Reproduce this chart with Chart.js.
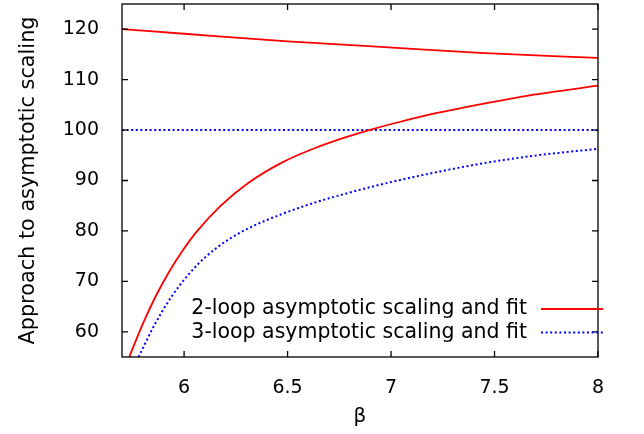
<!DOCTYPE html>
<html>
<head>
<meta charset="utf-8">
<script src="https://cdn.jsdelivr.net/npm/chart.js@4"></script>
<style>
  html, body { margin: 0; padding: 0; background: #fff; }
  #wrap { width: 644px; height: 434px; }
</style>
</head>
<body>
<div id="wrap"><canvas id="myChart" width="644" height="434"></canvas></div>
<script>
// data
const xTicks = [6, 6.5, 7, 7.5, 8];
const yTicks = [60, 70, 80, 90, 100, 110, 120];

// 2-loop: upper line and fit curve (red)
const beta2Top = [5.7, 6.0, 6.5, 6.95, 7.43, 8.0];
const val2Top  = [120.0, 119.1, 117.6, 116.5, 115.3, 114.3];
const beta2Fit = [5.735, 5.80, 5.86, 5.925, 5.99, 6.06, 6.18, 6.31, 6.47, 6.63, 6.79, 6.92, 7.05, 7.19, 7.43, 7.67, 8.0];
const val2Fit  = [55.0, 61.5, 66.8, 71.7, 75.9, 79.8, 85.1, 89.5, 93.5, 96.4, 98.7, 100.3, 101.7, 103.1, 105.1, 106.9, 108.8];

// 3-loop: flat line and fit curve (blue, dotted)
const beta3Top = [5.7, 8.0];
const val3Top  = [100, 100];
const beta3Fit = [5.78, 5.86, 5.94, 6.02, 6.10, 6.20, 6.31, 6.47, 6.63, 6.79, 6.95, 7.19, 7.43, 7.67, 8.0];
const val3Fit  = [55.0, 61.6, 67.0, 71.3, 74.7, 77.9, 80.5, 83.3, 85.6, 87.5, 89.2, 91.4, 93.3, 94.8, 96.3];

const labels = ['2-loop asymptotic scaling and fit', '3-loop asymptotic scaling and fit'];

function pts(xs, ys) {
  return xs.map((x, i) => ({x: x, y: ys[i]}));
}

const RED = '#ff0000';
const BLUE = '#0000ff';
const DOTS = [2, 2.6];

function serie(xs, ys, color, dash, label) {
  return {
    label: label,
    data: pts(xs, ys),
    showLine: true,
    borderColor: color,
    borderWidth: dash ? 2 : 1.8,
    borderDash: dash || [],
    pointRadius: 0,
    cubicInterpolationMode: 'monotone',
    fill: false
  };
}

Chart.defaults.font.family = "'DejaVu Sans', sans-serif";
Chart.defaults.color = '#000';

// gnuplot style frame with inward ticks + legend
const framePlugin = {
  id: 'frame',
  afterDraw(chart) {
    const ctx = chart.ctx;
    const a = chart.chartArea;
    const xs = chart.scales.x, ys = chart.scales.y;
    ctx.save();
    ctx.strokeStyle = '#000';
    ctx.lineWidth = 1.3;
    ctx.strokeRect(a.left, a.top, a.right - a.left, a.bottom - a.top);
    ctx.beginPath();
    for (const v of xTicks) {
      const px = xs.getPixelForValue(v);
      ctx.moveTo(px, a.bottom); ctx.lineTo(px, a.bottom - 6);
      ctx.moveTo(px, a.top); ctx.lineTo(px, a.top + 6);
    }
    for (const v of yTicks) {
      const py = ys.getPixelForValue(v);
      ctx.moveTo(a.left, py); ctx.lineTo(a.left + 6, py);
      ctx.moveTo(a.right, py); ctx.lineTo(a.right - 6, py);
    }
    ctx.stroke();

    // key
    ctx.font = "20.5px 'DejaVu Sans'";
    ctx.textAlign = 'right';
    ctx.textBaseline = 'middle';
    const rows = [chart.data.datasets[0], chart.data.datasets[2]];
    rows.forEach((ds, i) => {
      const y = 309 + i * 23.5;
      ctx.fillStyle = '#000';
      ctx.fillText(ds.label, 527, y);
      ctx.beginPath();
      ctx.strokeStyle = ds.borderColor;
      ctx.lineWidth = ds.borderWidth;
      ctx.setLineDash(ds.borderDash);
      ctx.moveTo(541, y); ctx.lineTo(603, y);
      ctx.stroke();
      ctx.setLineDash([]);
    });
    ctx.restore();
  }
};

const ctx = document.getElementById('myChart');

new Chart(ctx, {
  type: 'scatter',
  data: {
    datasets: [
      serie(beta2Top, val2Top, RED, null, labels[0]),
      serie(beta2Fit, val2Fit, RED, null, labels[0]),
      serie(beta3Top, val3Top, BLUE, DOTS, labels[1]),
      serie(beta3Fit, val3Fit, BLUE, DOTS, labels[1])
    ]
  },
  options: {
    responsive: false,
    animation: false,
    layout: { padding: { left: 0, right: 46, top: 4, bottom: 0 } },
    plugins: {
      legend: { display: false },
      tooltip: { enabled: false }
    },
    scales: {
      x: {
        type: 'linear',
        min: 5.7,
        max: 8,
        afterBuildTicks: s => { s.ticks = xTicks.map(v => ({value: v})); },
        afterFit: s => { s.height = 77; s.paddingLeft = 0; s.paddingRight = 0; },
        grid: { display: false },
        border: { display: false },
        ticks: { font: { size: 19 }, padding: 12, maxRotation: 0, callback: v => String(v) },
        title: { display: true, text: 'β', font: { size: 20 }, padding: { top: 0, bottom: 5 } }
      },
      y: {
        type: 'linear',
        min: 55,
        max: 125,
        afterBuildTicks: s => { s.ticks = yTicks.map(v => ({value: v})); },
        afterFit: s => { s.width = 122; s.paddingTop = 0; s.paddingBottom = 0; },
        grid: { display: false },
        border: { display: false },
        ticks: { font: { size: 19 }, padding: 15 },
        title: { display: true, text: 'Approach to asymptotic scaling', font: { size: 20.8 }, padding: { top: 16, bottom: 0 } }
      }
    }
  },
  plugins: [framePlugin]
});
</script>
</body>
</html>
